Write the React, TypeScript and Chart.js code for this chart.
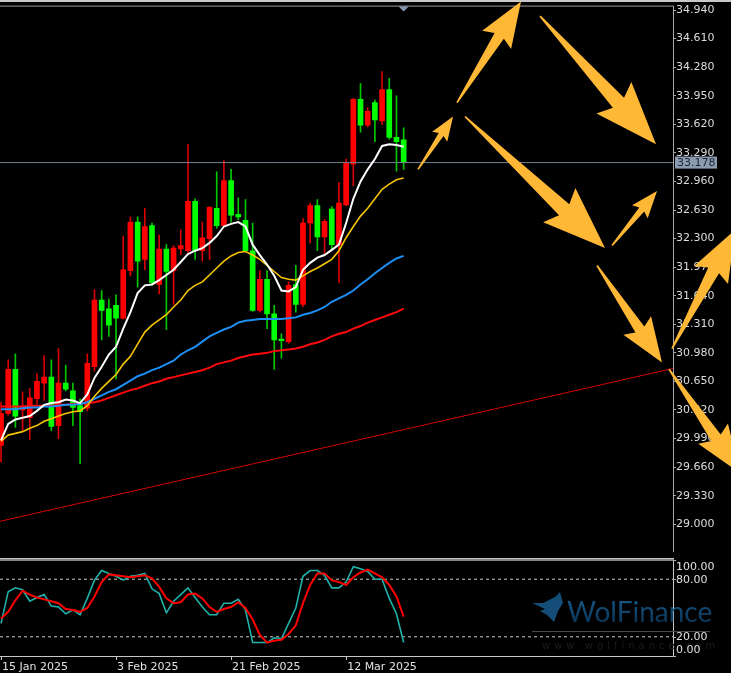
import React, { useEffect, useRef } from 'react';
import { Chart, registerables } from 'chart.js';

Chart.register(...registerables);

// ---------- data ----------
const dates = [
  '15 Jan 2025', '16 Jan 2025', '17 Jan 2025', '19 Jan 2025', '20 Jan 2025', '21 Jan 2025', '22 Jan 2025', '23 Jan 2025', '24 Jan 2025', '26 Jan 2025',
  '27 Jan 2025', '28 Jan 2025', '29 Jan 2025', '30 Jan 2025', '31 Jan 2025', '2 Feb 2025', '3 Feb 2025', '4 Feb 2025', '5 Feb 2025', '6 Feb 2025',
  '7 Feb 2025', '9 Feb 2025', '10 Feb 2025', '11 Feb 2025', '12 Feb 2025', '13 Feb 2025', '14 Feb 2025', '16 Feb 2025', '17 Feb 2025', '18 Feb 2025',
  '19 Feb 2025', '20 Feb 2025', '21 Feb 2025', '23 Feb 2025', '24 Feb 2025', '25 Feb 2025', '26 Feb 2025', '27 Feb 2025', '28 Feb 2025', '2 Mar 2025',
  '3 Mar 2025', '4 Mar 2025', '5 Mar 2025', '6 Mar 2025', '7 Mar 2025', '9 Mar 2025', '10 Mar 2025', '11 Mar 2025', '12 Mar 2025', '13 Mar 2025',
  '14 Mar 2025', '16 Mar 2025', '17 Mar 2025', '18 Mar 2025', '19 Mar 2025', '20 Mar 2025', '21 Mar 2025',
];

const openP = [29.91, 30.28, 30.79, 30.32, 30.23, 30.45, 30.63, 30.70, 30.14, 30.63, 30.54, 30.37, 30.34, 30.82, 31.59, 31.49, 31.53, 31.38, 31.93, 32.49, 32.06, 32.45, 31.77, 32.18, 31.93, 32.18, 32.16, 32.73, 32.16, 32.30, 32.65, 32.45, 32.97, 32.58, 32.51, 32.16, 31.47, 31.83, 31.43, 31.14, 31.11, 31.77, 31.54, 32.48, 32.68, 32.32, 32.64, 32.23, 32.69, 33.16, 33.91, 33.61, 33.87, 33.66, 34.02, 33.47, 33.44];
const highP = [30.41, 30.90, 30.97, 30.53, 30.57, 30.74, 30.95, 30.90, 31.03, 30.84, 30.63, 30.45, 30.97, 31.71, 31.70, 31.60, 31.65, 32.33, 32.55, 32.55, 32.65, 32.48, 32.34, 32.23, 32.22, 32.40, 33.39, 32.76, 32.49, 32.67, 33.07, 33.20, 33.10, 32.77, 32.75, 32.48, 31.93, 31.93, 31.53, 31.20, 31.80, 31.99, 32.53, 32.71, 32.75, 32.52, 32.67, 32.95, 33.22, 33.92, 34.09, 33.81, 33.90, 34.23, 34.15, 33.95, 33.58];
const lowP = [29.72, 30.26, 30.12, 30.07, 29.98, 30.39, 30.43, 30.08, 29.99, 30.54, 30.14, 29.70, 30.31, 30.77, 31.13, 31.17, 30.68, 31.37, 31.87, 31.74, 31.94, 31.76, 31.66, 31.25, 31.54, 32.11, 32.14, 32.06, 32.04, 32.06, 32.42, 32.44, 32.49, 32.52, 32.15, 31.46, 31.45, 31.26, 30.79, 30.92, 31.09, 31.45, 31.51, 32.25, 32.16, 32.10, 32.17, 31.79, 32.68, 32.91, 33.53, 33.59, 33.42, 33.62, 33.45, 33.08, 33.10];
const closeP = [30.28, 30.79, 30.25, 30.35, 30.46, 30.65, 30.70, 30.13, 30.63, 30.56, 30.35, 30.30, 30.86, 31.59, 31.47, 31.30, 31.38, 31.94, 32.49, 32.04, 32.44, 31.79, 32.18, 31.92, 32.19, 32.22, 32.73, 32.16, 32.31, 32.66, 32.45, 32.97, 32.57, 32.55, 32.16, 31.47, 31.83, 31.43, 31.13, 31.12, 31.76, 31.54, 32.48, 32.68, 32.32, 32.50, 32.23, 32.71, 33.17, 33.91, 33.61, 33.77, 33.67, 34.02, 33.47, 33.42, 33.178];

// moving averages (white, yellow, blue, red)
const maWhite = [29.97, 30.16, 30.21, 30.23, 30.25, 30.31, 30.38, 30.40, 30.41, 30.44, 30.43, 30.40, 30.50, 30.69, 30.82, 30.96, 31.05, 31.26, 31.45, 31.67, 31.76, 31.77, 31.82, 31.88, 31.94, 32.03, 32.12, 32.16, 32.19, 32.25, 32.33, 32.44, 32.47, 32.49, 32.44, 32.23, 32.11, 32.00, 31.87, 31.70, 31.69, 31.74, 31.94, 32.02, 32.08, 32.11, 32.17, 32.23, 32.48, 32.76, 32.96, 33.10, 33.22, 33.37, 33.39, 33.38, 33.36];
const maYellow = [29.96, 30.03, 30.05, 30.07, 30.11, 30.14, 30.19, 30.22, 30.25, 30.28, 30.30, 30.31, 30.37, 30.48, 30.57, 30.65, 30.73, 30.85, 30.94, 31.08, 31.22, 31.30, 31.36, 31.42, 31.51, 31.59, 31.70, 31.76, 31.80, 31.88, 31.96, 32.04, 32.10, 32.14, 32.15, 32.11, 32.06, 31.99, 31.92, 31.85, 31.83, 31.82, 31.87, 31.92, 31.96, 32.01, 32.06, 32.16, 32.31, 32.44, 32.56, 32.65, 32.76, 32.87, 32.93, 32.98, 33.00];
const maBlue = [30.33, 30.33, 30.33, 30.34, 30.35, 30.35, 30.36, 30.36, 30.37, 30.38, 30.38, 30.39, 30.41, 30.45, 30.49, 30.53, 30.56, 30.61, 30.66, 30.71, 30.74, 30.78, 30.81, 30.85, 30.89, 30.96, 31.01, 31.05, 31.11, 31.17, 31.21, 31.25, 31.28, 31.33, 31.35, 31.36, 31.37, 31.37, 31.37, 31.37, 31.38, 31.39, 31.42, 31.44, 31.47, 31.51, 31.57, 31.61, 31.65, 31.70, 31.77, 31.83, 31.90, 31.96, 32.02, 32.07, 32.10];
const maRed = [30.36, 30.36, 30.36, 30.36, 30.37, 30.37, 30.37, 30.37, 30.38, 30.38, 30.39, 30.39, 30.40, 30.41, 30.43, 30.46, 30.49, 30.52, 30.55, 30.57, 30.60, 30.63, 30.65, 30.68, 30.70, 30.72, 30.74, 30.76, 30.78, 30.81, 30.85, 30.87, 30.89, 30.92, 30.94, 30.96, 30.97, 30.98, 31.00, 31.01, 31.02, 31.03, 31.05, 31.08, 31.10, 31.13, 31.17, 31.20, 31.22, 31.26, 31.29, 31.33, 31.36, 31.39, 31.42, 31.45, 31.49];

// stochastic oscillator
const stochK = [34, 67, 71, 69, 57, 61, 64, 52, 51, 44, 48, 43, 60, 79, 89, 86, 83, 79, 83, 84, 86, 70, 65, 45, 57, 64, 71, 61, 51, 43, 43, 55, 55, 59, 48, 14, 14, 14, 19, 18, 34, 50, 83, 89, 89, 84, 71, 71, 77, 93, 91, 88, 80, 80, 60, 44, 14];
const stochD = [39, 46, 58, 68, 64, 61, 59, 57, 55, 49, 48, 46, 50, 62, 77, 85, 84, 83, 82, 83, 84, 81, 72, 60, 55, 56, 64, 65, 60, 51, 46, 49, 51, 56, 50, 38, 22, 14, 16, 17, 23, 32, 55, 74, 86, 86, 79, 77, 74, 82, 87, 90, 86, 82, 74, 62, 41];
const stochLevels = [80, 20];
const stochAxisValues = [100, 80, 20, 0];

// axes
const priceTicks = [29.0, 29.33, 29.66, 29.99, 30.32, 30.65, 30.98, 31.31, 31.64, 31.97, 32.3, 32.63, 32.96, 33.29, 33.62, 33.95, 34.28, 34.61, 34.94];
const xTickIndex = [0, 16, 32, 48];
const X_MIN = -0.14;
const X_MAX = 93.46;
const Y_MIN = 28.6865;
const Y_MAX = 34.98;

const lastPrice = 33.178;

// drawn objects (bar index, price)
const trendX = [-0.14, 93.46];
const trendY = [29.034, 30.8];
const arrowTails = [[58.0, 33.10], [63.42, 33.87], [74.97, 34.87], [64.53, 33.71], [84.98, 32.22], [82.89, 31.99], [93.32, 31.03], [92.91, 30.79]];
const arrowTips = [[62.87, 33.71], [72.32, 35.04], [91.1, 33.39], [84.0, 32.19], [91.24, 32.85], [91.93, 30.87], [102.1, 32.40], [102.8, 29.59]];

// ---------- helpers ----------
const FONT = 'DejaVu Sans';
const W = 731;

function drawArrow(ctx: CanvasRenderingContext2D, x1: number, y1: number, x2: number, y2: number) {
  const dx = x2 - x1, dy = y2 - y1;
  const L = Math.hypot(dx, dy);
  const ux = dx / L, uy = dy / L;
  const nx = -uy, ny = ux;
  const h = Math.min(L * 0.34, 56);
  const wh = h * 0.42;
  const ws = wh * 0.32;
  const back = h * 0.12;
  const bx = x2 - ux * h, by = y2 - uy * h;
  ctx.beginPath();
  ctx.moveTo(x1 + nx * 0.8, y1 + ny * 0.8);
  ctx.lineTo(bx + nx * ws, by + ny * ws);
  ctx.lineTo(bx - ux * back + nx * wh, by - uy * back + ny * wh);
  ctx.lineTo(x2, y2);
  ctx.lineTo(bx - ux * back - nx * wh, by - uy * back - ny * wh);
  ctx.lineTo(bx - nx * ws, by - ny * ws);
  ctx.lineTo(x1 - nx * 0.8, y1 - ny * 0.8);
  ctx.closePath();
  ctx.fill();
}

const mainDecor = {
  id: 'mainDecor',
  afterDraw(chart: any) {
    const ctx: CanvasRenderingContext2D = chart.ctx;
    const xs = chart.scales.x, ys = chart.scales.y;
    const a = chart.chartArea;
    ctx.save();
    // window frame
    ctx.fillStyle = '#c8c8c8';
    ctx.fillRect(0, 0, W, 2);
    ctx.strokeStyle = '#9a9a9a';
    ctx.lineWidth = 1;
    ctx.beginPath();
    ctx.moveTo(0, a.top - 0.5);
    ctx.lineTo(a.right + 0.5, a.top - 0.5);
    ctx.stroke();
    // last bar marker
    const lx = xs.getPixelForValue(dates.length - 1);
    ctx.fillStyle = '#8598b0';
    ctx.beginPath();
    ctx.moveTo(lx - 5, a.top);
    ctx.lineTo(lx + 5, a.top);
    ctx.lineTo(lx, a.top + 5);
    ctx.closePath();
    ctx.fill();
    // price tag
    const py = ys.getPixelForValue(lastPrice);
    ctx.fillStyle = '#8b9cb0';
    ctx.fillRect(a.right + 2, py - 6, 42, 12);
    ctx.fillStyle = '#1a2634';
    ctx.font = `11px "${FONT}"`;
    ctx.textBaseline = 'middle';
    ctx.textAlign = 'left';
    ctx.fillText(lastPrice.toFixed(3), a.right + 4, py + 0.5);
    // arrows
    ctx.fillStyle = '#ffb836';
    arrowTails.forEach((t, k) => {
      const p = arrowTips[k];
      drawArrow(ctx, xs.getPixelForValue(t[0]), ys.getPixelForValue(t[1]), xs.getPixelForValue(p[0]), ys.getPixelForValue(p[1]));
    });
    ctx.restore();
  },
};

const stochDecor = {
  id: 'stochDecor',
  beforeDatasetsDraw(chart: any) {
    const ctx: CanvasRenderingContext2D = chart.ctx;
    const a = chart.chartArea;
    ctx.save();
    const ox = 532, oy = a.top + 32; // watermark anchor
    // wolf mark
    ctx.fillStyle = '#134d78';
    ctx.beginPath();
    ctx.moveTo(ox + 28, oy);
    ctx.lineTo(ox + 31, oy + 11);
    ctx.lineTo(ox + 26, oy + 19);
    ctx.lineTo(ox + 22, oy + 30);
    ctx.lineTo(ox + 15, oy + 23);
    ctx.lineTo(ox + 8, oy + 19);
    ctx.lineTo(ox + 13, oy + 17);
    ctx.lineTo(ox + 0, oy + 11);
    ctx.lineTo(ox + 11, oy + 11);
    ctx.lineTo(ox + 17, oy + 8);
    ctx.lineTo(ox + 23, oy + 5);
    ctx.closePath();
    ctx.fill();
    // name
    const g = ctx.createLinearGradient(0, oy + 4, 0, oy + 30);
    g.addColorStop(0, '#185a8a');
    g.addColorStop(1, '#0c3658');
    ctx.fillStyle = g;
    ctx.font = '28px "Lato"';
    ctx.textBaseline = 'alphabetic';
    ctx.textAlign = 'left';
    ctx.fillText('WolFinance', ox + 35, oy + 30);
    // underline
    ctx.strokeStyle = '#484848';
    ctx.lineWidth = 1;
    ctx.beginPath();
    ctx.moveTo(ox, oy + 39.5);
    ctx.lineTo(ox + 178, oy + 39.5);
    ctx.stroke();
    // url
    ctx.fillStyle = '#1c1c1c';
    ctx.font = `10px "${FONT}"`;
    (ctx as any).letterSpacing = '4px';
    ctx.textBaseline = 'middle';
    ctx.fillText('www.wolfinance.com', ox + 10, oy + 54);
    (ctx as any).letterSpacing = '0px';
    ctx.restore();
  },
  afterDraw(chart: any) {
    const ctx: CanvasRenderingContext2D = chart.ctx;
    const ys = chart.scales.y;
    const a = chart.chartArea;
    ctx.save();
    // panel separator
    ctx.fillStyle = '#c4c4c4';
    ctx.fillRect(0, 0, a.right + 1, 1);
    ctx.fillStyle = '#858585';
    ctx.fillRect(0, 1, a.right + 1, 2);
    // axis labels
    ctx.font = `11px "${FONT}"`;
    ctx.fillStyle = '#e0e0e0';
    ctx.strokeStyle = '#b0b0b0';
    ctx.lineWidth = 1;
    ctx.textAlign = 'left';
    ctx.textBaseline = 'middle';
    stochAxisValues.forEach((v) => {
      const p = ys.getPixelForValue(v);
      const ly = Math.min(Math.max(p, a.top + 7), a.bottom - 6);
      ctx.beginPath();
      ctx.moveTo(a.right, Math.round(p) + 0.5);
      ctx.lineTo(a.right + 3, Math.round(p) + 0.5);
      ctx.stroke();
      ctx.fillText(v.toFixed(2), a.right + 3, ly + 0.5);
    });
    ctx.restore();
  },
};

const xy = (arr: number[]) => arr.map((v, i) => ({ x: i, y: v }));

export default function App() {
  const mainRef = useRef<HTMLCanvasElement>(null);
  const stochRef = useRef<HTMLCanvasElement>(null);

  useEffect(() => {
    Chart.defaults.font.family = FONT;
    const up = closeP.map((c, i) => c >= openP[i]);
    const bodyColors = up.map((u) => (u ? '#ff0000' : '#00ff00'));
    const wickColors = up.map((u) => (u ? '#d80000' : '#00c800'));

    const main = new Chart(mainRef.current!, {
      type: 'bar',
      data: {
        datasets: [
          { type: 'line', data: xy(maWhite), borderColor: '#ffffff', borderWidth: 2, pointRadius: 0, tension: 0 },
          { type: 'line', data: xy(maYellow), borderColor: '#f5c400', borderWidth: 1.6, pointRadius: 0, tension: 0 },
          { type: 'line', data: xy(maBlue), borderColor: '#1e8ff5', borderWidth: 2, pointRadius: 0, tension: 0 },
          { type: 'line', data: xy(maRed), borderColor: '#ff0a0a', borderWidth: 2, pointRadius: 0, tension: 0 },
          { type: 'line', data: trendX.map((x, k) => ({ x, y: trendY[k] })), borderColor: '#d40000', borderWidth: 1, pointRadius: 0 },
          { type: 'line', data: [{ x: X_MIN, y: lastPrice }, { x: X_MAX, y: lastPrice }], borderColor: '#738190', borderWidth: 1, pointRadius: 0 },
          {
            type: 'bar',
            data: closeP.map((c, i) => ({ x: i, y: [openP[i], c] })) as any,
            backgroundColor: bodyColors,
            barThickness: 5,
            grouped: false,
            minBarLength: 1,
            borderWidth: 0,
          },
          {
            type: 'bar',
            data: highP.map((h, i) => ({ x: i, y: [lowP[i], h] })) as any,
            backgroundColor: wickColors,
            barThickness: 1,
            grouped: false,
            borderWidth: 0,
          },
        ] as any,
      },
      options: {
        responsive: false,
        animation: false,
        events: [],
        layout: { padding: { top: 6, bottom: 0, left: 0, right: 0 }, autoPadding: false },
        plugins: { legend: { display: false }, tooltip: { enabled: false } },
        scales: {
          x: { type: 'linear', min: X_MIN, max: X_MAX, display: false, offset: false, grid: { offset: false } },
          y: {
            type: 'linear',
            position: 'right',
            min: Y_MIN,
            max: Y_MAX,
            afterFit: (s: any) => { s.width = 58; },
            afterBuildTicks: (s: any) => { s.ticks = priceTicks.map((v) => ({ value: v })); },
            ticks: { autoSkip: false, color: '#dcdcdc', padding: 0, font: { size: 11, family: FONT }, callback: (v: any) => Number(v).toFixed(3) },
            grid: { drawOnChartArea: false, drawTicks: true, tickLength: 3, color: '#a8a8a8' },
            border: { display: true, color: '#a8a8a8' },
          },
        },
      } as any,
      plugins: [mainDecor],
    });

    const stoch = new Chart(stochRef.current!, {
      type: 'line',
      data: {
        datasets: [
          { data: xy(stochD), borderColor: '#ff0000', borderWidth: 2, pointRadius: 0, tension: 0 },
          { data: xy(stochK), borderColor: '#20b2aa', borderWidth: 1.6, pointRadius: 0, tension: 0 },
          ...stochLevels.map((lv) => ({
            data: [{ x: X_MIN, y: lv }, { x: X_MAX, y: lv }],
            borderColor: '#c8c8c8',
            borderWidth: 1,
            borderDash: [3, 3],
            pointRadius: 0,
          })),
        ],
      },
      options: {
        responsive: false,
        animation: false,
        events: [],
        layout: { padding: { top: 2, bottom: 0, left: 0, right: 0 }, autoPadding: false },
        plugins: { legend: { display: false }, tooltip: { enabled: false } },
        scales: {
          x: {
            type: 'linear',
            min: X_MIN,
            max: X_MAX,
            offset: false,
            afterFit: (s: any) => { s.height = 17; },
            afterBuildTicks: (s: any) => { s.ticks = xTickIndex.map((v) => ({ value: v })); },
            ticks: {
              autoSkip: false,
              maxRotation: 0,
              align: 'start',
              labelOffset: 1,
              padding: 1,
              color: '#e0e0e0',
              font: { size: 11, family: FONT },
              callback: (v: any) => dates[Number(v)],
            },
            grid: { drawOnChartArea: false, drawTicks: true, tickLength: 4, color: '#c8c8c8' },
            border: { display: true, color: '#c8c8c8' },
          },
          y: {
            type: 'linear',
            position: 'right',
            min: 0,
            max: 100,
            afterFit: (s: any) => { s.width = 58; },
            ticks: { display: false },
            grid: { display: false },
            border: { display: true, color: '#c8c8c8' },
          },
        },
      } as any,
      plugins: [stochDecor],
    });

    return () => {
      main.destroy();
      stoch.destroy();
    };
  }, []);

  return (
    <div style={{ position: 'absolute', left: 0, top: 0, width: 731, height: 673, background: '#000', overflow: 'hidden' }}>
      <canvas ref={mainRef} width={731} height={558} style={{ position: 'absolute', left: 0, top: 0 }} />
      <canvas ref={stochRef} width={731} height={115} style={{ position: 'absolute', left: 0, top: 558 }} />
    </div>
  );
}
